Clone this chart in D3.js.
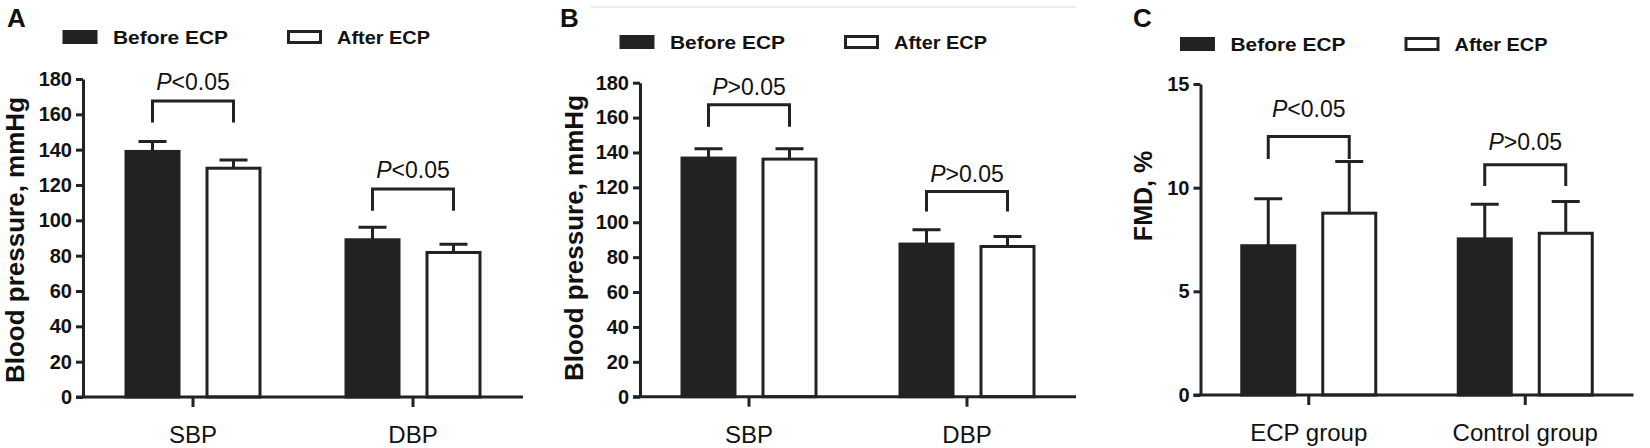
<!DOCTYPE html>
<html>
<head>
<meta charset="utf-8">
<script src="https://cdn.jsdelivr.net/npm/d3@7"></script>
<style>
  body { margin: 0; background: #fff; }
  svg { display: block; font-family: "Liberation Sans", Arial, sans-serif; }
</style>
</head>
<body>
<svg id="chart" width="1650" height="448"></svg>
<script>
// Datos
const seriesNames = ['Before ECP', 'After ECP'];
const bpCategories = ['SBP', 'DBP'];
const fmdCategories = ['ECP group', 'Control group'];
const bpTicks = [0, 20, 40, 60, 80, 100, 120, 140, 160, 180];
const fmdTicks = [0, 5, 10, 15];

// Panel A
const aBefore = [139, 89];
const aBeforeErr = [5.6, 7.1];
const aAfter = [129.5, 81.8];
const aAfterErr = [4.7, 4.7];
const aBracketTop = [167.5, 117.8];
const aBracketLeg = [155.4, 105.4];
const aPLabelAt = [173.7, 124];
const aPText = ['<0.05', '<0.05'];

// Panel B
const bBefore = [136.8, 87.5];
const bBeforeErr = [5.3, 8.2];
const bAfter = [136.2, 86.1];
const bAfterErr = [5.9, 5.8];
const bBracketTop = [167.4, 117.7];
const bBracketLeg = [154.8, 106.1];
const bPLabelAt = [173, 123.3];
const bPText = ['>0.05', '>0.05'];

// Panel C
const cBefore = [7.2, 7.53];
const cBeforeErr = [2.26, 1.67];
const cAfter = [8.77, 7.8];
const cAfterErr = [2.49, 1.53];
const cBracketTop = [12.47, 11.1];
const cBracketLeg = [11.38, 10.08];
const cPLabelAt = [13.42, 11.82];
const cPText = ['<0.05', '>0.05'];

const INK = '#222';

const panels = [
  { letter: 'A', letterX: 7, x0: 83, yTop: 79, yBottom: 397, width: 440, yMax: 180,
    ticks: bpTicks, cats: bpCategories, yLabel: 'Blood pressure, mmHg', yLabelSize: 26,
    yLabelX: -59.5, yLabelY: 240, legendY: 30,
    before: aBefore, beforeErr: aBeforeErr, after: aAfter, afterErr: aAfterErr,
    bTop: aBracketTop, bLeg: aBracketLeg, pAt: aPLabelAt, pText: aPText },
  { letter: 'B', letterX: 560, x0: 640, yTop: 82.7, yBottom: 396.7, width: 436, yMax: 180,
    ticks: bpTicks, cats: bpCategories, yLabel: 'Blood pressure, mmHg', yLabelSize: 26,
    yLabelX: -57.5, yLabelY: 238, legendY: 35,
    before: bBefore, beforeErr: bBeforeErr, after: bAfter, afterErr: bAfterErr,
    bTop: bBracketTop, bLeg: bBracketLeg, pAt: bPLabelAt, pText: bPText },
  { letter: 'C', letterX: 1133, x0: 1200.5, yTop: 84, yBottom: 395, width: 433, yMax: 15,
    ticks: fmdTicks, cats: fmdCategories, yLabel: 'FMD, %', yLabelSize: 25,
    yLabelX: -48.5, yLabelY: 196, legendY: 37,
    before: cBefore, beforeErr: cBeforeErr, after: cAfter, afterErr: cAfterErr,
    bTop: cBracketTop, bLeg: cBracketLeg, pAt: cPLabelAt, pText: cPText }
];

const svg = d3.select('#chart');

// linea gris tenue arriba del panel B
svg.append('line')
  .attr('x1', 591).attr('x2', 1076).attr('y1', 7).attr('y2', 7)
  .attr('stroke', '#e6e6e6').attr('stroke-width', 1.5);

panels.forEach(drawPanel);

function drawPanel(p) {
  const g = svg.append('g').attr('transform', `translate(${p.x0},0)`);

  const y = d3.scaleLinear().domain([0, p.yMax]).range([p.yBottom, p.yTop]);
  const x0 = d3.scaleBand().domain(p.cats).range([0, p.width]).padding(0);
  const x1 = d3.scaleBand().domain(seriesNames).range([-68.5, 68.5]).paddingInner(0.3086);
  const bw = x1.bandwidth();

  // letra del panel
  svg.append('text')
    .attr('x', p.letterX).attr('y', 27)
    .style('font-size', '26px').style('font-weight', 'bold').style('fill', '#111')
    .text(p.letter);

  // Leyenda
  const lg = g.append('g').attr('transform', `translate(0,${p.legendY})`);
  lg.append('rect').attr('x', -20.5).attr('y', 0).attr('width', 35).attr('height', 14).attr('fill', INK);
  lg.append('text').attr('x', 30).attr('y', 14.3)
    .attr('textLength', 115).attr('lengthAdjust', 'spacingAndGlyphs')
    .style('font-size', '18px').style('font-weight', 'bold').style('fill', '#111')
    .text(seriesNames[0]);
  lg.append('rect').attr('x', 205.5).attr('y', 1.5).attr('width', 32).attr('height', 11)
    .attr('fill', '#fff').attr('stroke', INK).attr('stroke-width', 3);
  lg.append('text').attr('x', 254).attr('y', 14.3)
    .attr('textLength', 93).attr('lengthAdjust', 'spacingAndGlyphs')
    .style('font-size', '18px').style('font-weight', 'bold').style('fill', '#111')
    .text(seriesNames[1]);

  // filas de barras
  const rows = p.cats.map((c, i) => ({
    cat: c,
    vals: [
      { s: seriesNames[0], v: p.before[i], e: p.beforeErr[i], fill: INK },
      { s: seriesNames[1], v: p.after[i], e: p.afterErr[i], fill: '#fff' }
    ]
  }));

  const groups = g.selectAll('.grp')
    .data(rows)
    .enter()
    .append('g')
    .attr('class', 'grp')
    .attr('transform', d => `translate(${x0(d.cat) + x0.bandwidth() / 2},0)`);

  // Barras de error
  groups.selectAll('.err')
    .data(d => d.vals)
    .enter()
    .append('path')
    .attr('class', 'err')
    .attr('d', d => {
      const cx = x1(d.s) + bw / 2;
      return `M${cx},${y(d.v)}V${y(d.v + d.e)}M${cx - 14},${y(d.v + d.e)}H${cx + 14}`;
    })
    .attr('fill', 'none')
    .attr('stroke', INK)
    .attr('stroke-width', 3);

  // Barras
  groups.selectAll('.bar')
    .data(d => d.vals)
    .enter()
    .append('rect')
    .attr('class', 'bar')
    .attr('x', d => x1(d.s) + 1.5)
    .attr('y', d => y(d.v))
    .attr('width', bw - 3)
    .attr('height', d => y(0) - y(d.v))
    .attr('fill', d => d.fill)
    .attr('stroke', INK)
    .attr('stroke-width', 3);

  // Corchetes de significancia
  groups.append('path')
    .attr('d', (d, i) => {
      const l = x1(seriesNames[0]) + bw / 2;
      const r = x1(seriesNames[1]) + bw / 2;
      return `M${l},${y(p.bLeg[i])}V${y(p.bTop[i])}H${r}V${y(p.bLeg[i])}`;
    })
    .attr('fill', 'none')
    .attr('stroke', INK)
    .attr('stroke-width', 3);

  const pl = groups.append('text')
    .attr('x', 0)
    .attr('y', (d, i) => y(p.pAt[i]))
    .attr('text-anchor', 'middle')
    .style('font-size', '23px')
    .style('fill', '#111');
  pl.append('tspan').style('font-style', 'italic').text('P');
  pl.append('tspan').text((d, i) => p.pText[i]);

  // Eje X
  g.append('line')
    .attr('x1', -7).attr('x2', p.width)
    .attr('y1', y(0)).attr('y2', y(0))
    .attr('stroke', INK).attr('stroke-width', 3);

  const xa = g.append('g')
    .attr('transform', `translate(0,${y(0)})`)
    .call(d3.axisBottom(x0).tickSize(10).tickSizeOuter(0).tickPadding(19));
  xa.select('.domain').remove();
  xa.selectAll('line').attr('stroke', INK).attr('stroke-width', 3);
  xa.selectAll('text')
    .style('font-size', '24px')
    .style('font-family', '"Liberation Sans", Arial, sans-serif')
    .style('fill', '#111');

  // Eje Y
  const ya = g.append('g')
    .call(d3.axisLeft(y).tickValues(p.ticks).tickSize(7).tickSizeOuter(0).tickPadding(4));
  ya.select('.domain').attr('stroke', INK).attr('stroke-width', 3);
  ya.selectAll('line').attr('stroke', INK).attr('stroke-width', 3);
  ya.selectAll('text')
    .style('font-size', '20px')
    .style('font-weight', 'bold')
    .style('font-family', '"Liberation Sans", Arial, sans-serif')
    .style('fill', '#111');

  // Etiqueta Y
  g.append('text')
    .attr('transform', `translate(${p.yLabelX},${p.yLabelY}) rotate(-90)`)
    .attr('text-anchor', 'middle')
    .style('font-size', p.yLabelSize + 'px')
    .style('font-weight', 'bold')
    .style('fill', '#111')
    .text(p.yLabel);
}
</script>
</body>
</html>
